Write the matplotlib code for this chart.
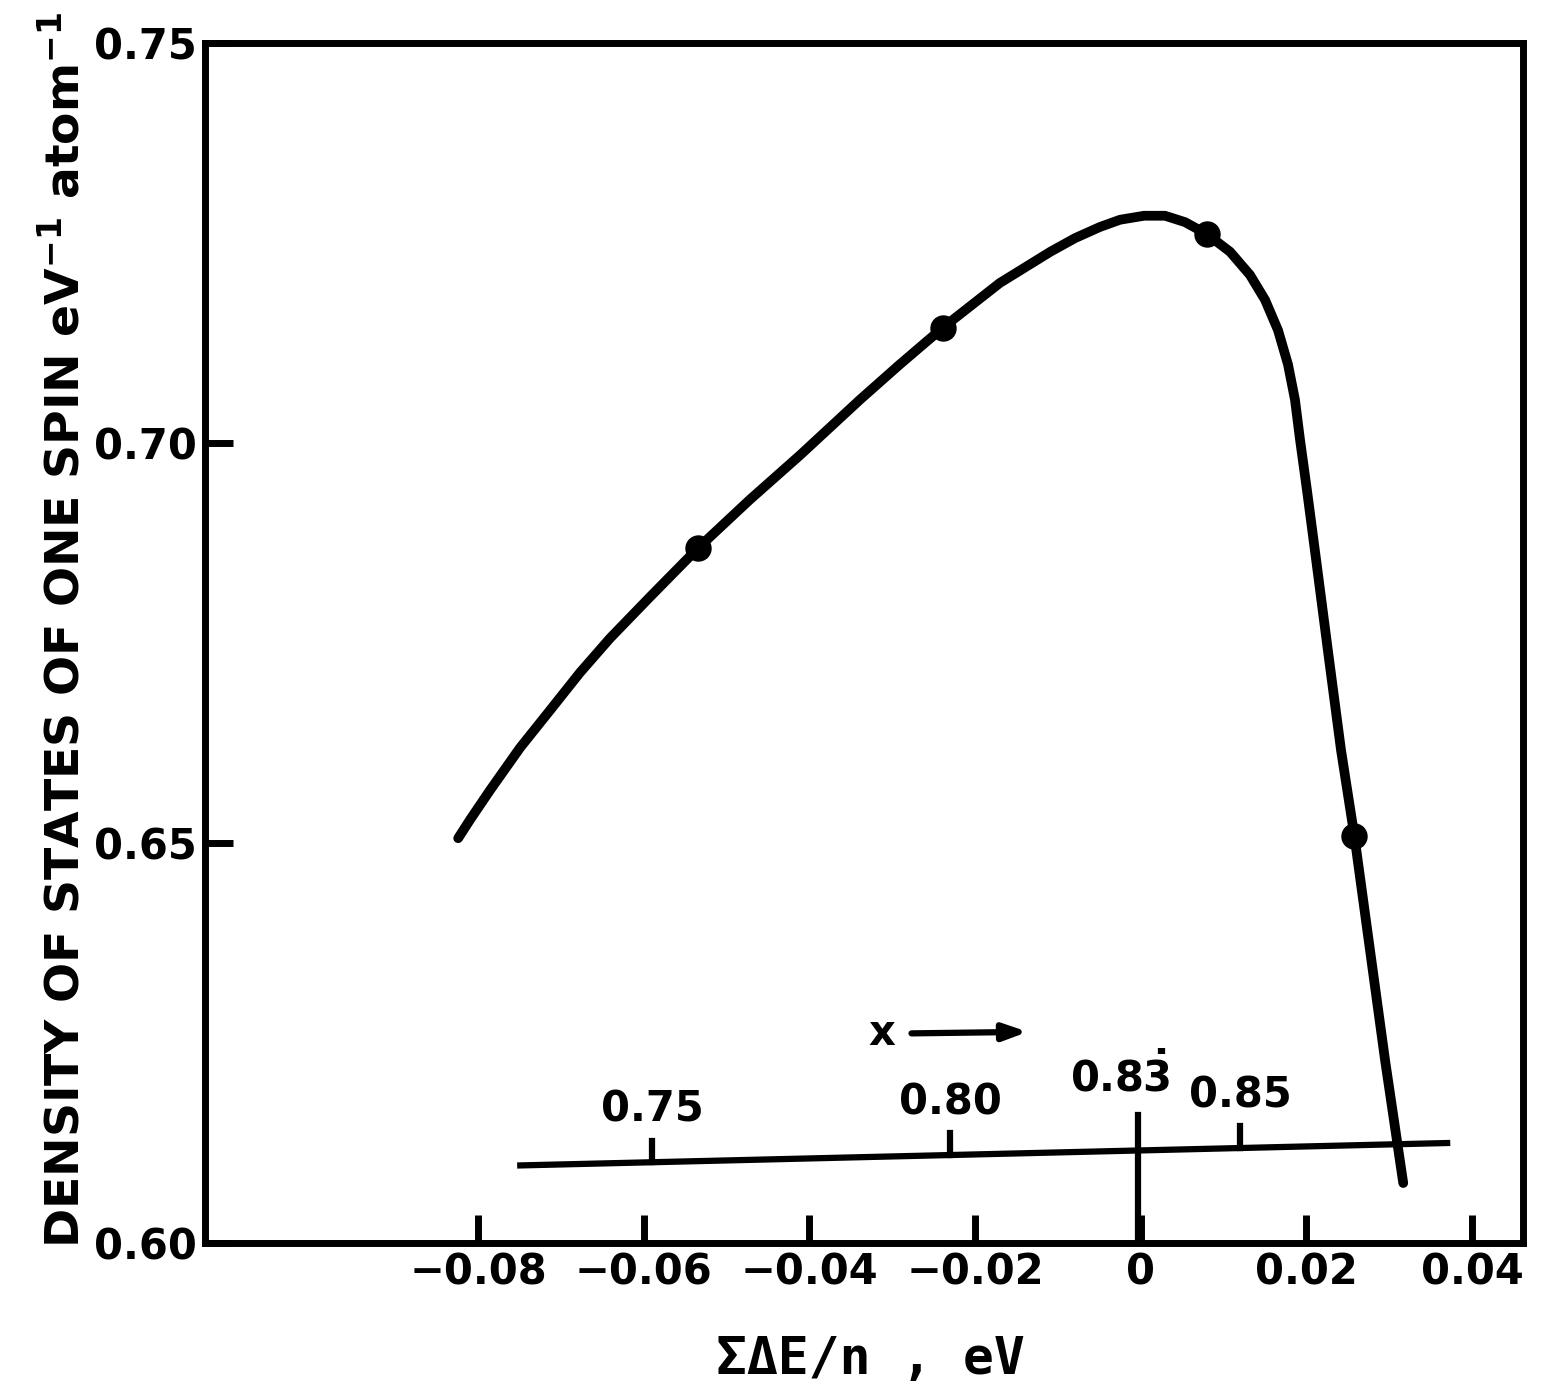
import numpy as np
import matplotlib
matplotlib.use("Agg")
import matplotlib.pyplot as plt

plt.rcParams["font.family"] = ["DejaVu Sans"]
plt.rcParams["font.weight"] = "bold"
plt.rcParams["mathtext.fontset"] = "dejavusans"

# curve: sum(dE)/n (eV) vs density of states
energy = [-0.0824, -0.08097, -0.07855, -0.07493, -0.0713, -0.06769, -0.06406,
          -0.0592, -0.0534, -0.0472, -0.0411, -0.0339, -0.0291, -0.0239,
          -0.0170, -0.0109, -0.00793, -0.00491, -0.00249, 0.00041, 0.00294,
          0.00536, 0.0080, 0.01079, 0.01320, 0.01501, 0.01658, 0.01779,
          0.01863, 0.01924, 0.02009, 0.02117, 0.0226, 0.02419, 0.0258,
          0.02769, 0.02950, 0.0317]
dos = [0.6506, 0.6529, 0.6566, 0.6619, 0.6666, 0.6713, 0.6756,
       0.6808, 0.6869, 0.6929, 0.6985, 0.7054, 0.7098, 0.7144,
       0.7200, 0.7239, 0.7256, 0.7270, 0.7279, 0.7284, 0.7284,
       0.7276, 0.7261, 0.7239, 0.7210, 0.7179, 0.7141, 0.7098,
       0.7054, 0.7004, 0.6940, 0.6855, 0.6741, 0.6616, 0.6509,
       0.6366, 0.6229, 0.6075]

# measured points
pt_energy = [-0.0534, -0.0239, 0.0080, 0.0258]
pt_dos = [0.6869, 0.7144, 0.7261, 0.6509]

# composition scale drawn inside the plot
comp_line_x = [-0.0749, 0.0370]
comp_line_y = [0.6097, 0.6125]
comp_ticks = ["0.75", "0.80", "0.85"]
comp_tick_x = [-0.0590, -0.0230, 0.0120]
comp_stoich_x = -0.0003
comp_stoich_label = r"$\mathbf{0.8\dot{3}}$"

x_ticks = [-0.08, -0.06, -0.04, -0.02, 0.0, 0.02, 0.04]
x_ticklabels = ["\u22120.08", "\u22120.06", "\u22120.04", "\u22120.02", "0", "0.02", "0.04"]
y_ticks = [0.60, 0.65, 0.70, 0.75]
y_ticklabels = ["0.60", "0.65", "0.70", "0.75"]

fig = plt.figure(figsize=(15.44, 13.94), dpi=100)
ax = fig.add_axes([0.1328, 0.1083, 0.8536, 0.8609])

ax.plot(energy, dos, color="black", lw=7, solid_capstyle="round",
        solid_joinstyle="round", zorder=3)
ax.plot(pt_energy, pt_dos, "o", color="black", ms=18, zorder=4)

ax.set_xlim(-0.11296, 0.04616)
ax.set_ylim(0.60, 0.75)

for s in ax.spines.values():
    s.set_linewidth(5)

ax.set_xticks(x_ticks)
ax.set_xticklabels(x_ticklabels)
ax.set_yticks(y_ticks)
ax.set_yticklabels(y_ticklabels)
ax.tick_params(direction="in", length=20, width=5, labelsize=30, pad=6)

# composition axis
def line_y(x):
    return np.interp(x, comp_line_x, comp_line_y)

ax.plot(comp_line_x, comp_line_y, color="black", lw=4.5, zorder=2)
for lab, xv in zip(comp_ticks, comp_tick_x):
    y0 = line_y(xv)
    ax.plot([xv, xv], [y0, y0 + 0.0027], color="black", lw=4.5)
    ax.text(xv, y0 + 0.0040, lab, ha="center", va="bottom", fontsize=30,
            fontweight="bold")

ax.plot([comp_stoich_x, comp_stoich_x], [0.60, 0.6160], color="black", lw=4.5)
ax.text(comp_stoich_x - 0.0022, 0.6178, comp_stoich_label, ha="center",
        va="bottom", fontsize=30)

ax.text(-0.0313, 0.6262, "x", ha="center", va="center", fontsize=30,
        fontweight="bold")
ax.annotate("", xy=(-0.0133, 0.6264), xytext=(-0.0280, 0.6262),
            arrowprops=dict(arrowstyle="-|>,head_length=1.4,head_width=0.5",
                            color="black", lw=4.5))

fig.text(65 / 1544, 0.548,
         r"DENSITY OF STATES OF ONE SPIN eV$^{\mathbf{-1}}$ atom$^{\mathbf{-1}}$",
         rotation=90, ha="center", va="center", fontsize=34, fontweight="bold")
fig.text(0.5635, 0.0244, "\u03a3\u0394E/n , eV", ha="center", va="center",
         fontsize=37, fontweight="bold", family="DejaVu Sans Mono")

fig.savefig("out.png", dpi=100)
